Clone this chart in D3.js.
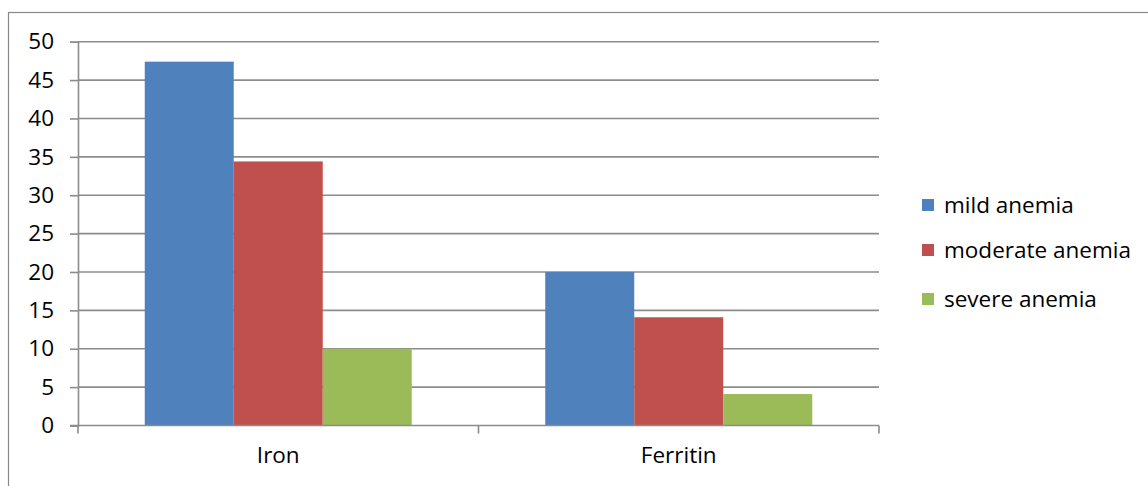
<!DOCTYPE html>
<html>
<head>
<meta charset="utf-8">
<script src="https://cdn.jsdelivr.net/npm/d3@7"></script>
<style>
  html, body { margin: 0; padding: 0; background: #fff; }
  svg { display: block; font-family: "Open Sans", "Noto Sans", sans-serif; }
</style>
</head>
<body>
<svg id="chart" width="1148" height="486"></svg>
<script>
// Anemia grade breakdown by marker
const categories = ["Iron", "Ferritin"];
const seriesNames = ["mild anemia", "moderate anemia", "severe anemia"];
const mildValues = [47.4, 20.0];
const moderateValues = [34.4, 14.1];
const severeValues = [10.0, 4.1];
const yTicks = [0, 5, 10, 15, 20, 25, 30, 35, 40, 45, 50];
const colors = ["#4f81bd", "#c0504d", "#9bbb59"];

const seriesValues = [mildValues, moderateValues, severeValues];
const fontSize = 22.5;

const svg = d3.select("#chart");
const plot = { left: 78, right: 879, top: 41.7, bottom: 425.5 };

// Outer chart frame
svg.append("rect")
  .attr("x", 8.5).attr("y", 12.5)
  .attr("width", 1160).attr("height", 500)
  .attr("fill", "none").attr("stroke", "#888").attr("stroke-width", 1.2);

const x = d3.scaleBand().domain(categories).range([plot.left, plot.right]).paddingInner(0).paddingOuter(0);
const xs = d3.scaleBand().domain(seriesNames).range([0, x.bandwidth()]).paddingInner(0).paddingOuter(0.75);
const y = d3.scaleLinear().domain([0, 50]).range([plot.bottom, plot.top]);

// Horizontal gridlines
svg.append("g").selectAll("line").data(yTicks.filter(t => t > 0)).join("line")
  .attr("x1", plot.left).attr("x2", plot.right)
  .attr("y1", d => y(d)).attr("y2", d => y(d))
  .attr("stroke", "#8c8c8c").attr("stroke-width", 1.6);

// Bars
const groups = svg.append("g").selectAll("g").data(categories).join("g")
  .attr("transform", d => `translate(${x(d)},0)`);
groups.selectAll("rect")
  .data((c, ci) => seriesNames.map((s, si) => ({ s, si, v: seriesValues[si][ci] })))
  .join("rect")
  .attr("x", d => xs(d.s))
  .attr("width", xs.bandwidth())
  .attr("y", d => y(d.v))
  .attr("height", d => y(0) - y(d.v))
  .attr("fill", d => colors[d.si]);

// Y axis
const yAxis = svg.append("g").attr("transform", `translate(${plot.left},0)`)
  .call(d3.axisLeft(y).tickValues(yTicks).tickSize(8).tickPadding(16).tickFormat(d3.format("d")));
yAxis.select(".domain").attr("stroke", "#8c8c8c").attr("stroke-width", 1.6);
yAxis.selectAll(".tick line").attr("stroke", "#8c8c8c").attr("stroke-width", 1.6);
yAxis.selectAll(".tick text").attr("font-size", fontSize).attr("fill", "#000")
  .attr("font-family", "'Open Sans', sans-serif");

// X axis
const xAxis = svg.append("g").attr("transform", `translate(0,${plot.bottom})`)
  .call(d3.axisBottom(x).tickSize(0).tickPadding(22));
xAxis.select(".domain").remove();
svg.append("line")
  .attr("x1", plot.left - 8).attr("x2", plot.right)
  .attr("y1", plot.bottom).attr("y2", plot.bottom)
  .attr("stroke", "#8c8c8c").attr("stroke-width", 1.6);
const boundaries = [plot.left].concat(categories.map(c => x(c) + x.bandwidth()));
svg.append("g").selectAll("line").data(boundaries).join("line")
  .attr("x1", d => d).attr("x2", d => d)
  .attr("y1", plot.bottom).attr("y2", plot.bottom + 8)
  .attr("stroke", "#8c8c8c").attr("stroke-width", 1.6);
xAxis.selectAll(".tick text").attr("font-size", fontSize).attr("fill", "#000")
  .attr("font-family", "'Open Sans', sans-serif");

// Legend
const legend = svg.append("g").attr("transform", "translate(922,0)");
const legendY = [205, 250, 299];
const items = legend.selectAll("g").data(seriesNames).join("g")
  .attr("transform", (d, i) => `translate(0,${legendY[i]})`);
items.append("rect").attr("x", 0).attr("y", -6).attr("width", 12).attr("height", 12)
  .attr("fill", (d, i) => colors[i]);
items.append("text").attr("x", 22).attr("y", 0).attr("dy", "0.35em")
  .attr("font-size", fontSize).attr("fill", "#000").text(d => d);
</script>
</body>
</html>
